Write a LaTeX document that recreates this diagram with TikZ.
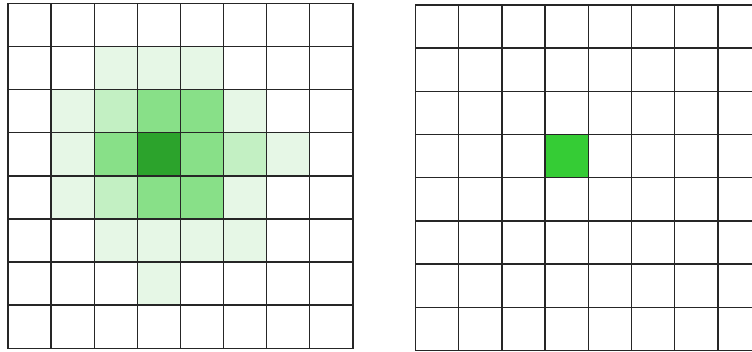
\documentclass[tikz,border=0pt]{standalone}
\definecolor{gA}{HTML}{E6F7E6}
\definecolor{gB}{HTML}{C3F0C3}
\definecolor{gC}{HTML}{88E088}
\definecolor{gD}{HTML}{2CA32C}
\definecolor{gE}{HTML}{35CC35}
\begin{document}
\begin{tikzpicture}[x=1pt,y=-1pt,
  gridline/.style={draw=black!85,line width=1.4pt,line cap=rect}]
\useasboundingbox (0,0) rectangle (752,352);
\clip (0,0) rectangle (752,352);
% left grid
\begin{scope}[shift={(8,3.5)},x=43.1pt,y=-43.1pt]
  \foreach \r/\c/\col in {1/2/gA,1/3/gA,1/4/gA,
     2/1/gA,2/2/gB,2/3/gC,2/4/gC,2/5/gA,
     3/1/gA,3/2/gC,3/3/gD,3/4/gC,3/5/gB,3/6/gA,
     4/1/gA,4/2/gB,4/3/gC,4/4/gC,4/5/gA,
     5/2/gA,5/3/gA,5/4/gA,5/5/gA,
     6/3/gA}
     \fill[\col] (\c,\r) rectangle ++(1,1);
  \foreach \i in {0,...,8} {
    \draw[gridline] (\i,0) -- (\i,8);
    \draw[gridline] (0,\i) -- (8,\i);
  }
\end{scope}
% right grid
\begin{scope}[shift={(415.5,5)},x=43.2pt,y=-43.2pt]
  \fill[gE] (3,3) rectangle ++(1,1);
  \foreach \i in {0,...,8} {
    \draw[gridline] (\i,0) -- (\i,8);
    \draw[gridline] (0,\i) -- (8,\i);
  }
\end{scope}
\end{tikzpicture}
\end{document}
